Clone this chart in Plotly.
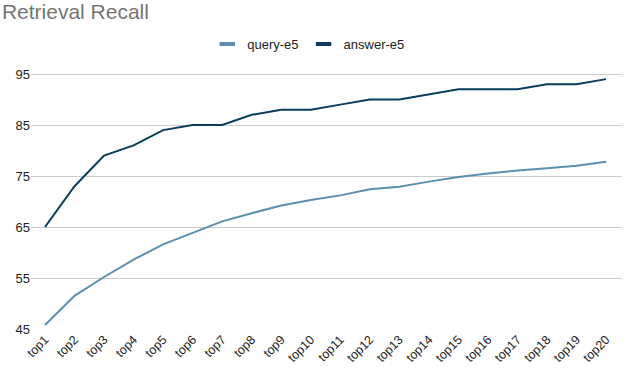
import plotly.graph_objects as go

categories = [f"top{i}" for i in range(1, 21)]
query_e5 = [45.8, 51.5, 55.2, 58.6, 61.6, 63.9, 66.1, 67.7, 69.2, 70.3,
            71.2, 72.4, 72.9, 73.9, 74.8, 75.5, 76.1, 76.5, 77.0, 77.8]
answer_e5 = [65, 73, 79, 81, 84, 85, 85, 87, 88, 88,
             89, 90, 90, 91, 92, 92, 92, 93, 93, 94]
y_ticks = [45, 55, 65, 75, 85, 95]

c_query = "#5b8fb0"
c_answer = "#0a3d5c"
font_family = "Liberation Sans, Arial, sans-serif"

fig = go.Figure()
fig.add_trace(go.Scatter(x=categories, y=query_e5, mode="lines", name="query-e5",
                         line=dict(color=c_query, width=2), showlegend=False))
fig.add_trace(go.Scatter(x=categories, y=answer_e5, mode="lines", name="answer-e5",
                         line=dict(color=c_answer, width=2), showlegend=False))
# legend swatches (short thick bars like the reference)
for name, col in [("query-e5", c_query), ("answer-e5", c_answer)]:
    fig.add_trace(go.Scatter(x=[None], y=[None], mode="markers", name=name,
                             marker=dict(symbol="line-ew-open", size=11, color=col,
                                         line=dict(color=col, width=4))))

fig.update_layout(
    width=632, height=371,
    margin=dict(l=31, r=10, t=60, b=42),
    paper_bgcolor="white", plot_bgcolor="white",
    font=dict(family=font_family, color="#222222", size=13),
    title=dict(text="Retrieval Recall", font=dict(size=21, color="#757575", family=font_family),
               x=0.003, xanchor="left", xref="container",
               y=1 - 12 / 371, yanchor="middle", yref="container"),
    legend=dict(orientation="h", x=0.47, xanchor="center", xref="paper",
                y=1 - 44 / 371, yanchor="middle", yref="container",
                font=dict(size=13, color="#222222"), itemwidth=30,
                bgcolor="rgba(0,0,0,0)"),
    showlegend=True,
)
fig.update_xaxes(type="category", range=[-0.474, 19.54], showgrid=False, zeroline=False,
                 showline=False, ticks="", tickangle=-45,
                 tickfont=dict(size=12.5, color="#222222"), automargin=False)
fig.update_yaxes(range=[45, 97.75], tickvals=y_ticks, showgrid=True, gridcolor="#cccccc",
                 gridwidth=1, zeroline=False, showline=False, ticks="",
                 tickfont=dict(size=13, color="#222222"), automargin=False)

fig.write_html("out.html", config={"displayModeBar": False},
               post_script="document.body.style.margin='0';")
